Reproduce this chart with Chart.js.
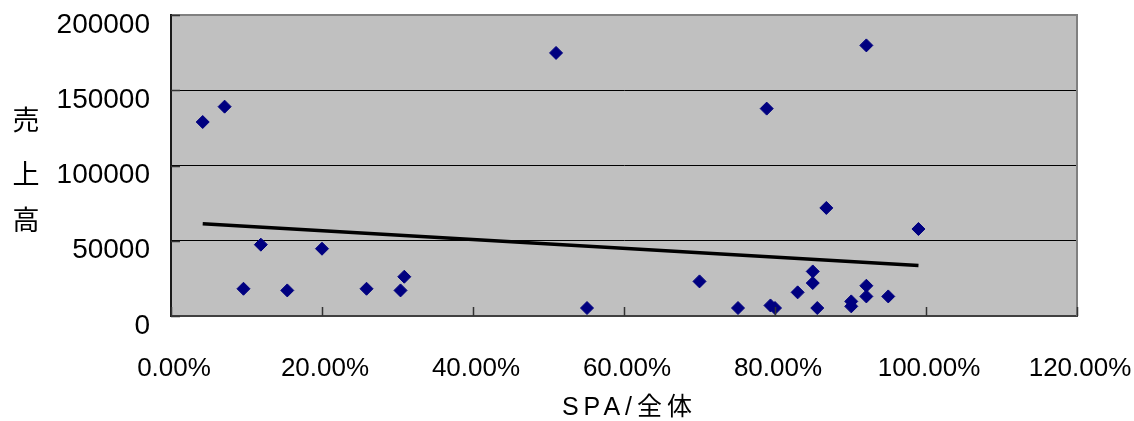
<!DOCTYPE html>
<html>
<head>
<meta charset="utf-8">
<script src="https://cdn.jsdelivr.net/npm/chart.js@4/dist/chart.umd.min.js"></script>
<style>
  html, body { margin: 0; padding: 0; background: #ffffff; }
  #wrap { width: 1134px; height: 421px; }
</style>
</head>
<body>
<div id="wrap"><canvas id="c" width="1134" height="421"></canvas></div>
<script>
// SPA share (%) per store and its sales
const spaShare = [4.2, 7.1, 9.6, 11.9, 15.4, 20.0, 25.9, 30.4, 30.9, 51.0,
                  55.1, 70.0, 75.1, 78.9, 79.4, 80.0, 83.0, 85.0, 85.0, 85.6,
                  86.8, 90.1, 90.1, 92.1, 92.1, 92.1, 95.0, 99.0];
const sales    = [128900, 139100, 18100, 47400, 17000, 44700, 18100, 17000, 26100, 174800,
                  5300, 23000, 5300, 137800, 7000, 5300, 15700, 29600, 21900, 5300,
                  71800, 9700, 6400, 20100, 13000, 179800, 13000, 57800];

// linear trend line end points
const trendX = [4.2, 99.0];
const trendY = [61300, 33600];

// axis ticks
const xTicks = [0, 20, 40, 60, 80, 100, 120];
const yTicks = [0, 50000, 100000, 150000, 200000];

const xTitle = 'SPA/全体';
const yTitleChars = ['売', '上', '高'];

const FONT = "'Liberation Sans', Arial, 'Noto Sans CJK JP', sans-serif";

const points = spaShare.map((x, i) => ({ x, y: sales[i] }));
const trend = trendX.map((x, i) => ({ x, y: trendY[i] }));

const plotDecor = {
  id: 'plotDecor',
  beforeDraw(chart) {
    const { ctx, chartArea: a } = chart;
    ctx.save();
    ctx.fillStyle = '#c0c0c0';
    ctx.fillRect(a.left, a.top, a.right - a.left, a.bottom - a.top);
    ctx.restore();
  },
  afterDatasetsDraw(chart) {
    const { ctx, chartArea: a, scales } = chart;
    ctx.save();
    // right frame edge
    ctx.strokeStyle = '#808080';
    ctx.lineWidth = 2;
    ctx.beginPath();
    ctx.moveTo(a.right, a.top - 1);
    ctx.lineTo(a.right, a.bottom);
    ctx.stroke();
    // inward tick marks
    ctx.strokeStyle = '#333333';
    ctx.lineWidth = 1.5;
    ctx.beginPath();
    xTicks.forEach(v => {
      const px = Math.round(scales.x.getPixelForValue(v)) + 0.5;
      ctx.moveTo(px, a.bottom);
      ctx.lineTo(px, a.bottom - 9);
    });
    yTicks.forEach(v => {
      const py = Math.round(scales.y.getPixelForValue(v)) + 0.5;
      ctx.moveTo(a.left, py);
      ctx.lineTo(a.left + 9, py);
    });
    ctx.stroke();
    ctx.restore();
  },
  afterDraw(chart) {
    const { ctx, chartArea: a } = chart;
    ctx.save();
    ctx.fillStyle = '#000000';
    ctx.textBaseline = 'middle';
    // x axis title
    ctx.font = '25px ' + FONT;
    const spacing = 5;
    const hasLS = 'letterSpacing' in ctx;
    if (hasLS) ctx.letterSpacing = spacing + 'px';
    const w = ctx.measureText(xTitle).width - (hasLS ? spacing : 0);
    ctx.textAlign = 'left';
    ctx.fillText(xTitle, (a.left + a.right) / 2 + 3 - w / 2, 408);
    if (hasLS) ctx.letterSpacing = '0px';
    // y axis title, stacked vertically
    ctx.font = '27px ' + FONT;
    ctx.textAlign = 'center';
    const ys = [123, 177, 223];
    yTitleChars.forEach((ch, i) => ctx.fillText(ch, 26, ys[i]));
    ctx.restore();
  }
};

new Chart(document.getElementById('c'), {
  type: 'scatter',
  data: {
    datasets: [
      {
        label: '売上高',
        data: points,
        pointStyle: 'rectRot',
        pointRadius: 6.5,
        pointBorderWidth: 1,
        backgroundColor: '#000080',
        borderColor: '#000080',
        order: 0
      },
      {
        label: 'trend',
        data: trend,
        showLine: true,
        borderColor: '#000000',
        borderWidth: 3.5,
        pointRadius: 0,
        fill: false,
        order: 1
      }
    ]
  },
  options: {
    responsive: false,
    animation: false,
    events: [],
    layout: { padding: { left: 0, right: 57, top: 15, bottom: 0 } },
    plugins: {
      legend: { display: false },
      tooltip: { enabled: false },
      title: { display: false }
    },
    scales: {
      x: {
        type: 'linear',
        min: 0,
        max: 120,
        afterBuildTicks: s => { s.ticks = xTicks.map(v => ({ value: v })); },
        afterFit: s => { s.height = 105; s.paddingLeft = 0; s.paddingRight = 0; },
        grid: { drawOnChartArea: false, drawTicks: false },
        border: { display: true, color: '#404040', width: 2 },
        ticks: {
          padding: 37,
          labelOffset: 3,
          maxRotation: 0,
          color: '#000000',
          font: { size: 26, family: FONT },
          callback: v => Number(v).toFixed(2) + '%'
        }
      },
      y: {
        type: 'linear',
        min: 0,
        max: 200000,
        afterBuildTicks: s => { s.ticks = yTicks.map(v => ({ value: v })); },
        afterFit: s => { s.width = 171; s.paddingTop = 0; s.paddingBottom = 0; },
        grid: {
          drawTicks: false,
          color: c => (c.tick && c.tick.value === 200000) ? '#808080' : '#000000',
          lineWidth: c => (c.tick && c.tick.value === 200000) ? 2 : 1
        },
        border: { display: true, color: '#1a1a1a', width: 2 },
        ticks: {
          padding: 21,
          labelOffset: 10,
          color: '#000000',
          font: { size: 28, family: FONT },
          callback: v => String(v)
        }
      }
    }
  },
  plugins: [plotDecor]
});
</script>
</body>
</html>
